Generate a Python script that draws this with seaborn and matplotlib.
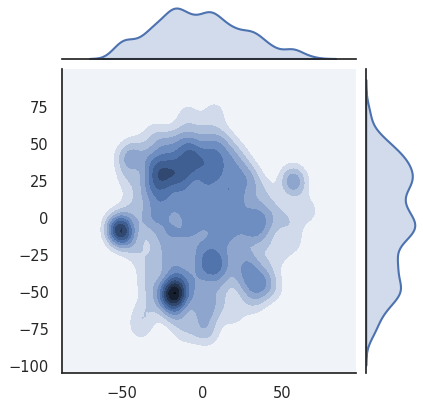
import numpy as np
import pandas as pd
import matplotlib
matplotlib.use("Agg")
import matplotlib.pyplot as plt
import seaborn as sns

# point positions estimated from the density picture
# broad plateau of points that makes the pale-to-mid blue body
x_body = [-30, -14, 1, 13,
          -41, -24, -9, 6, 21,
          -34, -19, -6, 11, 26,
          -46, -31, -14, 2, 16, 31, 56,
          -37, -23, -7, 9, 22, 39,
          -44, -29, -16, 1, 14, 31, 46, 66,
          -36, -21, -4, 11, 24, 41,
          -46, -27, -13, 6, 19, 36, 56,
          -39, -21, -2, 13, 27, 46,
          -31, -11, 4, 21, 39,
          -34, -6, 11, 26, 44,
          -29, -4, 9, 31,
          -36, -16, 1, 19,
          -39, -11, 4,
          -9, 8]
y_body = [56, 54, 57, 53,
          46, 44, 47, 45, 43,
          36, 34, 37, 35, 33,
          26, 24, 27, 25, 23, 26, 24,
          16, 14, 17, 15, 13, 16,
          6, 4, 7, 5, 3, 6, 4, 5,
          -4, -6, -3, -5, -7, -4,
          -14, -16, -13, -15, -17, -14, -16,
          -24, -26, -23, -25, -27, -24,
          -34, -36, -33, -35, -37,
          -44, -46, -43, -45, -47,
          -54, -56, -53, -57,
          -64, -66, -63, -65,
          -74, -76, -77,
          69, 71]

# second, denser layer in the middle of the body
x_mid = [-22, -7, 8,
         -30, -15, 0, 15,
         -25, -10, 5, 20,
         -30, -15, 0, 15, 28,
         -25, -10, 5, 20,
         -30, -10, 5, 20, 35,
         -20, -5, 15, 30,
         -10, 5,
         -20, 0, 30,
         -15, 0, 30,
         -20, 5]
y_mid = [50, 51, 49,
         40, 41, 39, 40,
         30, 31, 29, 30,
         20, 21, 19, 20, 21,
         10, 11, 9, 10,
         0, 1, -1, 0, 1,
         -10, -9, -11, -10,
         -20, -21,
         -30, -31, -30,
         -40, -41, -39,
         -60, -61]

# extra points where the picture gets darker
x_dark = [-18, -17, -19, -16, -19, -18, -17,
          -52, -51, -53, -51, -52, -50,
          -10, -20, -5, -25, -28, 5,
          -46, -47,
          9, 10, 35, 36, 33, 55, 58, 57, -1]
y_dark = [-51, -52, -50, -50, -52, -53, -49,
          -8, -9, -7, -8, -10, -7,
          34, 30, 42, 25, 32, 35,
          41, 39,
          -32, -33, -47, -46, -4, -2, 24, 26, -75]

x_lim = (-87.5, 96.0)
y_lim = (-104.7, 100.5)

df = pd.DataFrame({"x": x_body + x_mid + x_dark, "y": y_body + y_mid + y_dark})


def kde_grid(x, y, factor, n=100):
    data = np.vstack([x, y]).astype(float)
    cov = np.cov(data) * factor ** 2
    inv = np.linalg.inv(cov)
    norm = 1.0 / (2 * np.pi * np.sqrt(np.linalg.det(cov)) * data.shape[1])
    xx, yy = np.meshgrid(np.linspace(*x_lim, n), np.linspace(*y_lim, n))
    pts = np.stack([xx.ravel(), yy.ravel()])
    diff = pts[:, :, None] - data[:, None, :]
    q = np.einsum("inm,ij,jnm->nm", diff, inv, diff)
    z = np.exp(-0.5 * q).sum(axis=1) * norm
    return xx, yy, z.reshape(xx.shape)


sns.set_theme(style="white")

base = sns.color_palette("deep")[0]
cmap = sns.blend_palette([sns.utils.set_hls_values(base, l=l) for l in np.linspace(1, 0, 12)],
                         as_cmap=True)
bw = 0.21

g = sns.JointGrid(data=df, x="x", y="y", height=4.2)
g.figure.set_size_inches(4.23, 4.04)
g.ax_joint.set_position([62 / 423, 1 - 372.7 / 404, 294 / 423, 303.4 / 404])
g.ax_marg_x.set_position([62 / 423, 1 - 58.5 / 404, 294 / 423, 53 / 404])
g.ax_marg_y.set_position([365.7 / 423, 1 - 372.7 / 404, 51.5 / 423, 303.4 / 404])

xx, yy, zz = kde_grid(df["x"], df["y"], bw)
g.ax_joint.contourf(xx, yy, zz, 10, cmap=cmap)

sns.kdeplot(data=df, x="x", ax=g.ax_marg_x, fill=True, color=base, bw_method=bw, linewidth=1.5)
sns.kdeplot(data=df, y="y", ax=g.ax_marg_y, fill=True, color=base, bw_method=bw, linewidth=1.5)

g.ax_joint.set_xlim(*x_lim)
g.ax_joint.set_ylim(*y_lim)
g.ax_joint.set_xticks([-50, 0, 50])
g.ax_joint.set_yticks([-100, -75, -50, -25, 0, 25, 50, 75])
g.ax_joint.set_xlabel("")
g.ax_joint.set_ylabel("")
g.ax_joint.tick_params(labelsize=10.5, colors=".15")

g.figure.savefig("out.png", dpi=100)
